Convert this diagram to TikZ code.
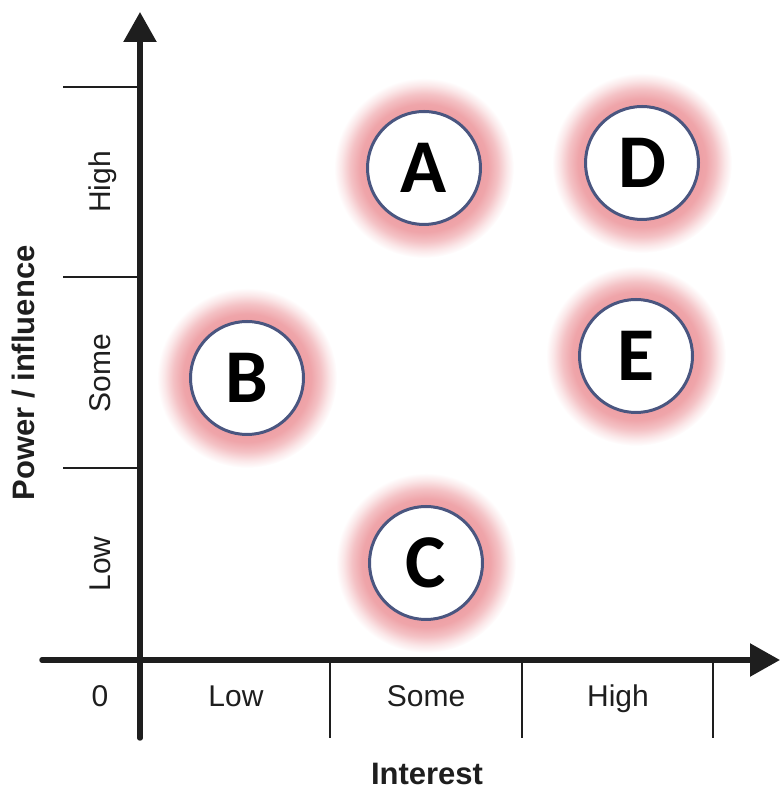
\documentclass[tikz,border=0pt]{standalone}
\usepackage{fontspec}
\setmainfont{Liberation Sans}
\newfontfamily\letterfont{Carlito}
\usetikzlibrary{arrows.meta}
\definecolor{glowc}{RGB}{238,160,165}
\definecolor{ringc}{RGB}{74,86,128}
\definecolor{inkc}{RGB}{30,30,30}
\pgfdeclareradialshading{glowshade}{\pgfpointorigin}{color(0bp)=(glowc); color(15.8bp)=(glowc); color(17.8bp)=(glowc!95!white); color(20.5bp)=(glowc!65!white); color(23bp)=(glowc!25!white); color(25bp)=(white); color(50bp)=(white)}
\tikzset{
  axisline/.style={line width=5.5pt, inkc, line cap=round, -{Triangle[length=30pt,width=32pt]}},
  tickline/.style={line width=2.6pt, inkc},
  lbl/.style={font=\fontsize{30}{36}\selectfont, text=inkc, anchor=base, inner sep=0pt},
  vlbl/.style={lbl, rotate=90},
  ttl/.style={font=\bfseries\fontsize{31}{36}\selectfont, text=inkc, anchor=base, inner sep=0pt},
  bubble/.style={circle, draw=ringc, line width=3pt, fill=white, minimum size=113pt, inner sep=0pt,
    font=\letterfont\bfseries\fontsize{76}{76}\selectfont, text=black},
  glow/.style={shading=glowshade}
}
\begin{document}
\begin{tikzpicture}[x=1pt,y=1pt]
\useasboundingbox (0,0) rectangle (781,789);
% axes
\coordinate (o) at (140,129);
\coordinate (xs) at (42,129);
\coordinate (xe) at (780,129);
\coordinate (ys) at (140,51);
\coordinate (ye) at (140,777);
\draw[axisline] (xs) -- (xe);
\draw[axisline] (ys) -- (ye);
% y ticks
\foreach \yy/\nm in {702/ta,512/tb,321/tc}{
  \coordinate (\nm l) at (63,\yy);
  \coordinate (\nm r) at (140,\yy);
  \draw[tickline] (\nm l) -- (\nm r);
}
% x ticks
\foreach \xx/\nm in {330/ua,522/ub,713/uc}{
  \coordinate (\nm t) at (\xx,129);
  \coordinate (\nm b) at (\xx,51);
  \draw[tickline] (\nm t) -- (\nm b);
}
% labels
\node[lbl] (l0) at (100,82) {0};
\node[lbl] (lxl) at (236,82) {Low};
\node[lbl] (lxs) at (426,82) {Some};
\node[lbl] (lxh) at (618,82) {High};
\node[ttl] (lint) at (427,5) {Interest};
\node[vlbl] (lyh) at (110,607) {High};
\node[vlbl] (lys) at (110,416) {Some};
\node[vlbl] (lyl) at (110,225) {Low};
\node[ttl, rotate=90] (lpow) at (34,416) {Power / influence};
% bubbles
\foreach \nm/\xx/\yy in {A/424/621, D/642/626, B/247/411, E/636/433, C/426/226}{
  \coordinate (c\nm) at (\xx,\yy);
  \shade[glow] (c\nm) circle (90);
  \node[bubble] (\nm) at (c\nm) {\nm};
}
\end{tikzpicture}
\end{document}
